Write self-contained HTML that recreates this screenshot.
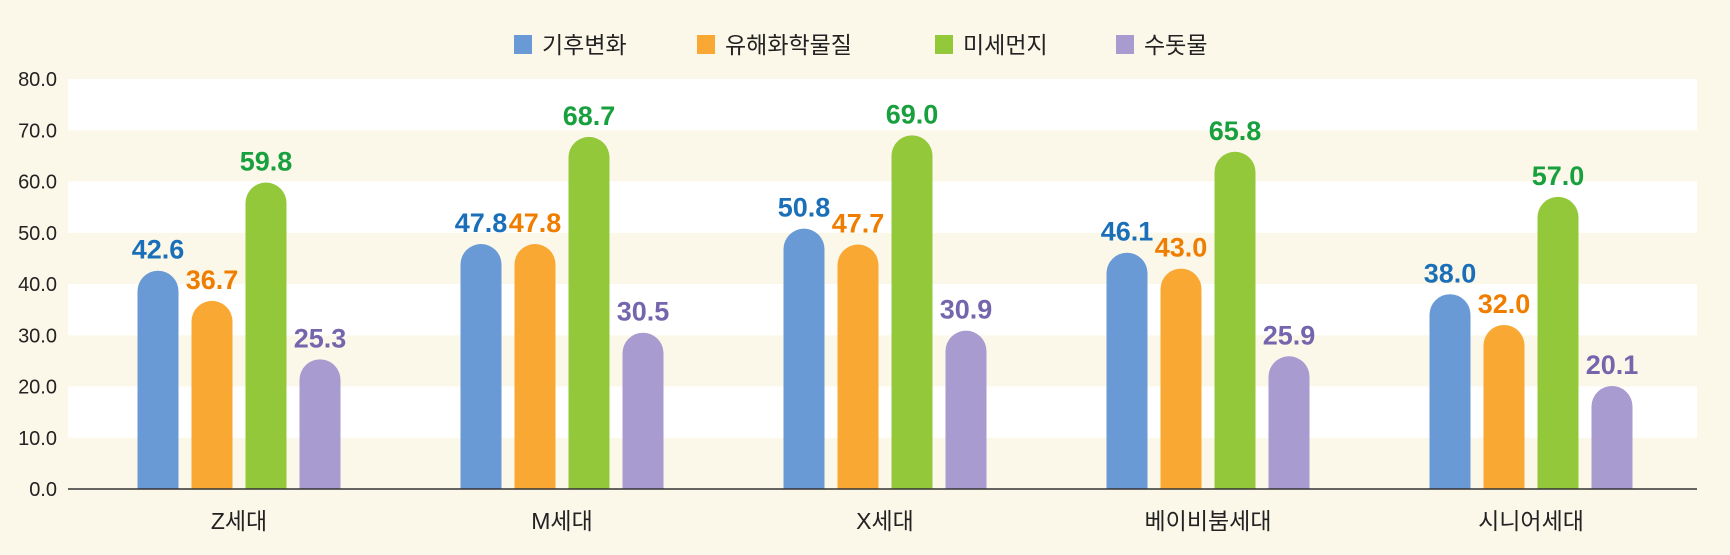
<!DOCTYPE html>
<html><head><meta charset="utf-8"><style>
html,body{margin:0;padding:0;background:#fcf8e9;}
svg{display:block;}
text{font-family:"Liberation Sans Narrow","Liberation Sans","Noto Sans CJK KR",sans-serif;}
</style></head><body>
<svg id="chart" width="1730" height="555" viewBox="0 0 1730 555" xmlns="http://www.w3.org/2000/svg">
<rect width="1730" height="555" fill="#fcf8e9"/>
<g id="bands"></g><g id="yaxis"></g><g id="bars"></g><g id="xaxis"></g><g id="legend"></g>
</svg>
<script>
const categories=["Z세대","M세대","X세대","베이비붐세대","시니어세대"];
const seriesNames=["기후변화","유해화학물질","미세먼지","수돗물"];
const climate=[42.6,47.8,50.8,46.1,38.0];
const chemicals=[36.7,47.8,47.7,43.0,32.0];
const fineDust=[59.8,68.7,69.0,65.8,57.0];
const tapWater=[25.3,30.5,30.9,25.9,20.1];
const yTicks=[0,10,20,30,40,50,60,70,80];
const series=[climate,chemicals,fineDust,tapWater];
const barColors=["#6a9ad6","#f9a834","#93c83a","#a89bd0"];
const labelColors=["#1a6fb8","#ee7d00","#18a03e","#7565ad"];
const NS="http://www.w3.org/2000/svg";
const x0=68,x1=1697,yBase=489,yTop=79,yMax=80;
function y(v){return yBase-(v/yMax)*(yBase-yTop);}
function cx(i){return 239+i*323;}
const step=54,bw=41;
function mk(t,a,p){const e=document.createElementNS(NS,t);for(const k in a)e.setAttribute(k,a[k]);p.appendChild(e);return e;}
const bands=document.getElementById('bands');
for(let i=0;i<yTicks.length-1;i++){
 if(i%2===1){
  const r=mk('rect',{x:x0,y:y(yTicks[i+1]),width:x1-x0,height:y(yTicks[i])-y(yTicks[i+1]),fill:'#ffffff'},bands);
  
  
 }
}
const ya=document.getElementById('yaxis');
yTicks.forEach(v=>{
 const t=mk('text',{x:57,y:y(v)+7,'text-anchor':'end','font-size':'20',fill:'#222'},ya);
 t.textContent=v.toFixed(1);
 
 
});
const bars=document.getElementById('bars');
categories.forEach((c,i)=>{
 series.forEach((s,j)=>{
  const v=s[i];const left=cx(i)-1.5*step+j*step-bw/2;const top=y(v);const r=bw/2;
  const d=`M${left},${yBase} L${left},${top+r} A${r},${r} 0 0 1 ${left+bw},${top+r} L${left+bw},${yBase} Z`;
  const p=mk('path',{d:d,fill:barColors[j]},bars);
  
  
  const t=mk('text',{x:left+bw/2,y:top-12,'text-anchor':'middle','font-size':'27','font-weight':'bold',fill:labelColors[j]},bars);
  t.textContent=v.toFixed(1);
  
  
 });
});
const xa=document.getElementById('xaxis');
const ln=mk('line',{x1:x0,x2:x1,y1:yBase,y2:yBase,stroke:'#333','stroke-width':'1.5'},xa);


categories.forEach((c,i)=>{
 const t=mk('text',{x:cx(i),y:529,'text-anchor':'middle','font-size':'23',fill:'#222'},xa);
 t.textContent=c;
 
 
});
const lg=document.getElementById('legend');
const lx=[514,697,935,1116];
seriesNames.forEach((n,j)=>{
 const r=mk('rect',{x:lx[j],y:35,width:18,height:19,fill:barColors[j]},lg);
 
 
 const t=mk('text',{x:lx[j]+28,y:53,'font-size':'23',fill:'#222'},lg);
 t.textContent=n;
 
 
});
</script>
</body></html>
